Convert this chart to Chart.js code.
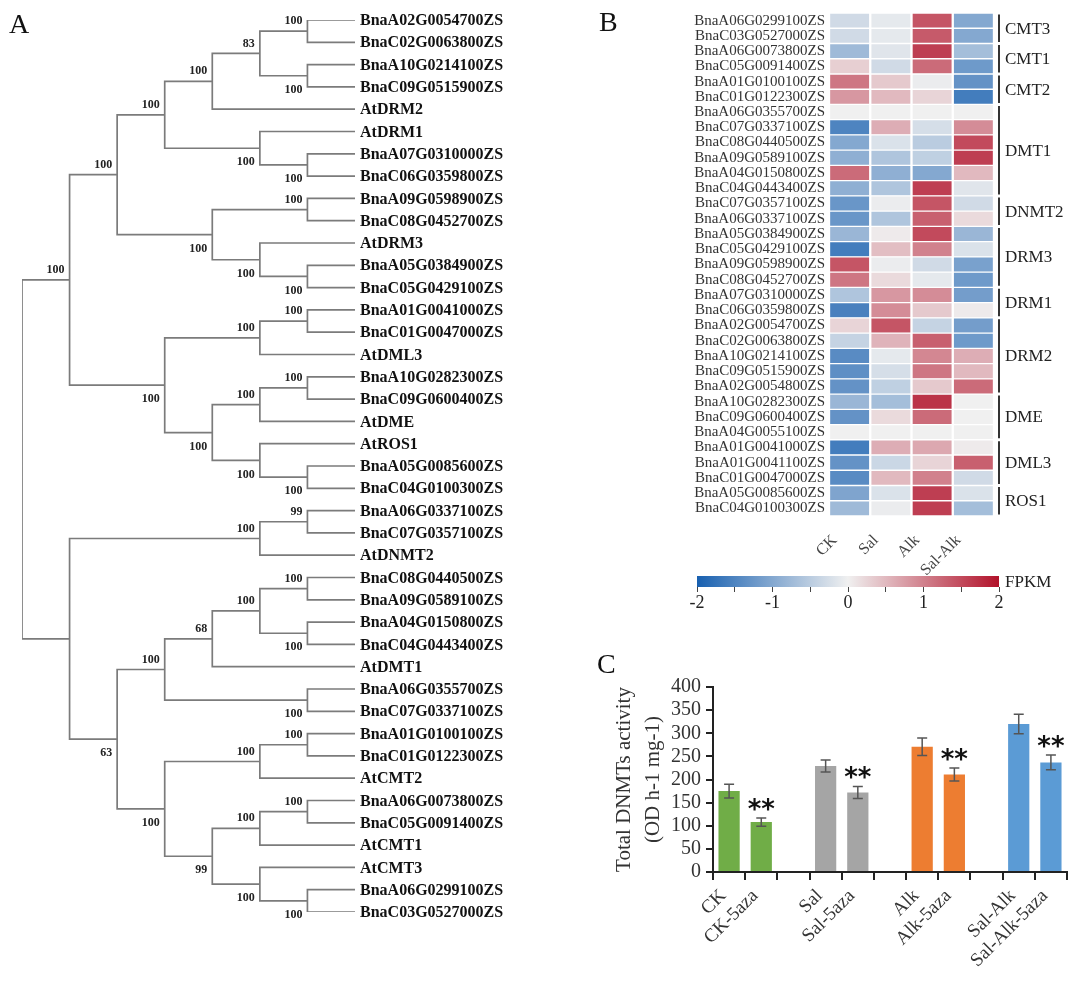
<!DOCTYPE html>
<html>
<head>
<meta charset="utf-8">
<script src="https://cdn.jsdelivr.net/npm/chart.js@4.4.0/dist/chart.umd.min.js"></script>
<style>
  body { margin: 0; background: #fff; width: 1080px; height: 981px; position: relative; overflow: hidden; }
  canvas { position: absolute; }
  .tag { position: absolute; font: 28px/1 "Liberation Serif", serif; color: #111; }
</style>
</head>
<body>
<canvas id="tree" width="585" height="981" style="left:0;top:0"></canvas>
<canvas id="heat" width="495" height="580" style="left:585px;top:0"></canvas>
<canvas id="scale" width="400" height="70" style="left:680px;top:560px"></canvas>
<canvas id="activity" width="490" height="331" style="left:590px;top:650px"></canvas>
<div class="tag" style="left:9px;top:10px">A</div>
<div class="tag" style="left:599px;top:8px">B</div>
<div class="tag" style="left:597px;top:650px">C</div>
<script>
const SERIF = '"Liberation Serif", "Times New Roman", serif';

// A: tree topology with bootstrap support (newick)
const treeNewick =
  '(((((((BnaA02G0054700ZS,BnaC02G0063800ZS)100,(BnaA10G0214100ZS,BnaC09G0515900ZS)100)83,AtDRM2)100,' +
  '(AtDRM1,(BnaA07G0310000ZS,BnaC06G0359800ZS)100)100)100,' +
  '((BnaA09G0598900ZS,BnaC08G0452700ZS)100,(AtDRM3,(BnaA05G0384900ZS,BnaC05G0429100ZS)100)100)100)100,' +
  '(((BnaA01G0041000ZS,BnaC01G0047000ZS)100,AtDML3)100,(((BnaA10G0282300ZS,BnaC09G0600400ZS)100,AtDME)100,' +
  '(AtROS1,(BnaA05G0085600ZS,BnaC04G0100300ZS)100)100)100)100)100,' +
  '(((BnaA06G0337100ZS,BnaC07G0357100ZS)99,AtDNMT2)100,' +
  '(((((BnaC08G0440500ZS,BnaA09G0589100ZS)100,(BnaA04G0150800ZS,BnaC04G0443400ZS)100)100,AtDMT1)68,' +
  '(BnaA06G0355700ZS,BnaC07G0337100ZS)100)100,' +
  '(((BnaA01G0100100ZS,BnaC01G0122300ZS)100,AtCMT2)100,(((BnaA06G0073800ZS,BnaC05G0091400ZS)100,AtCMT1)100,' +
  '(AtCMT3,(BnaA06G0299100ZS,BnaC03G0527000ZS)100)100)99)100)63));';

// B: heatmap (z-scored FPKM)
const heatGenes = ['BnaA06G0299100ZS', 'BnaC03G0527000ZS', 'BnaA06G0073800ZS', 'BnaC05G0091400ZS',
  'BnaA01G0100100ZS', 'BnaC01G0122300ZS', 'BnaA06G0355700ZS', 'BnaC07G0337100ZS', 'BnaC08G0440500ZS',
  'BnaA09G0589100ZS', 'BnaA04G0150800ZS', 'BnaC04G0443400ZS', 'BnaC07G0357100ZS', 'BnaA06G0337100ZS',
  'BnaA05G0384900ZS', 'BnaC05G0429100ZS', 'BnaA09G0598900ZS', 'BnaC08G0452700ZS', 'BnaA07G0310000ZS',
  'BnaC06G0359800ZS', 'BnaA02G0054700ZS', 'BnaC02G0063800ZS', 'BnaA10G0214100ZS', 'BnaC09G0515900ZS',
  'BnaA02G0054800ZS', 'BnaA10G0282300ZS', 'BnaC09G0600400ZS', 'BnaA04G0055100ZS', 'BnaA01G0041000ZS',
  'BnaA01G0041100ZS', 'BnaC01G0047000ZS', 'BnaA05G0085600ZS', 'BnaC04G0100300ZS'];
const heatCols = ['CK', 'Sal', 'Alk', 'Sal-Alk'];
const fpkmCK = [-0.3, -0.3, -0.75, 0.3, 1.1, 0.8, 0, -1.5, -1.0, -0.9, 1.2, -0.9, -1.25, -1.25, -0.8, -1.6, 1.4,
  1.1, -0.6, -1.55, 0.25, -0.4, -1.4, -1.35, -1.3, -0.8, -1.3, 0, -1.6, -1.3, -1.4, -1.05, -0.75];
const fpkmSal = [-0.1, -0.1, -0.15, -0.3, 0.35, 0.5, 0, 0.6, -0.2, -0.6, -0.9, -0.6, -0.05, -0.6, 0.05, 0.45, -0.05,
  0.2, 0.8, 0.9, 1.4, 0.55, -0.1, -0.25, -0.45, -0.7, 0.2, 0, 0.6, -0.35, 0.5, -0.2, -0.05];
const fpkmAlk = [1.4, 1.35, 1.6, 1.2, -0.05, 0.25, 0, -0.25, -0.5, -0.45, -1.0, 1.6, 1.4, 1.3, 1.5, 1.0, -0.3,
  -0.1, 0.9, 0.35, -0.4, 1.3, 0.95, 1.1, 0.35, 1.7, 1.2, 0, 0.65, 0.25, 1.0, 1.6, 1.6];
const fpkmSalAlk = [-1.0, -1.0, -0.7, -1.2, -1.3, -1.6, 0, 0.9, 1.5, 1.6, 0.5, -0.15, -0.3, 0.2, -0.8, -0.2, -1.1,
  -1.2, -1.15, 0.05, -1.15, -1.2, 0.6, 0.5, 1.2, 0, 0, 0, 0.05, 1.3, -0.3, -0.2, -0.7];
const heatGroups = ['CMT3', 'CMT1', 'CMT2', 'DMT1', 'DNMT2', 'DRM3', 'DRM1', 'DRM2', 'DME', 'DML3', 'ROS1'];
const heatGroupSize = [2, 2, 2, 6, 2, 4, 2, 5, 3, 3, 2];
const scaleMin = -2, scaleMax = 2;

// C: total DNMTs activity
const treatments = ['CK', 'CK-5aza', '', 'Sal', 'Sal-5aza', '', 'Alk', 'Alk-5aza', '', 'Sal-Alk', 'Sal-Alk-5aza'];
const activity = [175, 108, null, 229, 172, null, 271, 211, null, 320, 237];
const activityErr = [15, 9, null, 13, 13, null, 19, 14, null, 21, 16];
const signif = ['', '**', '', '', '**', '', '', '**', '', '', '**'];

// ---------- tree ----------
function parseNewick(s) {
  let i = 0;
  function node() {
    const n = { children: [] };
    if (s[i] === '(') {
      i++;
      n.children.push(node());
      while (s[i] === ',') { i++; n.children.push(node()); }
      i++;
    }
    let label = '';
    while (i < s.length && !',();'.includes(s[i])) label += s[i++];
    if (n.children.length) n.support = label ? label : null;
    else n.name = label;
    return n;
  }
  return node();
}

const root = parseNewick(treeNewick);
const leaves = [];
function layout(n) {
  if (!n.children.length) { n.y = leaves.length; n.h = 0; leaves.push(n); return; }
  n.children.forEach(layout);
  n.h = 1 + Math.max(...n.children.map(c => c.h));
  n.y = (n.children[0].y + n.children[n.children.length - 1].y) / 2;
}
layout(root);

const branchPts = [];
const supportLabels = [];
function walk(n) {
  n.x = root.h - n.h;
  n.children.forEach(walk);
  if (!n.children.length) return;
  const a = n.children[0], b = n.children[n.children.length - 1];
  branchPts.push({ x: a.x, y: a.y }, { x: n.x, y: a.y }, { x: n.x, y: b.y }, { x: b.x, y: b.y }, { x: NaN, y: NaN });
  n.children.forEach((c, k) => {
    if (c.children.length && c.support) supportLabels.push({ node: c, text: c.support, above: k === 0 });
  });
}
walk(root);

const treeText = {
  id: 'treeText',
  afterDatasetsDraw(chart) {
    const { ctx, scales: { x, y } } = chart;
    ctx.save();
    ctx.fillStyle = '#111';
    ctx.textBaseline = 'middle';
    ctx.font = 'bold 16px ' + SERIF;
    ctx.textAlign = 'left';
    leaves.forEach(l => ctx.fillText(l.name, x.getPixelForValue(l.x) + 5, y.getPixelForValue(l.y) + 1));
    ctx.font = 'bold 12px ' + SERIF;
    ctx.fillStyle = '#222';
    ctx.textAlign = 'right';
    supportLabels.forEach(s => {
      const px = x.getPixelForValue(s.node.x) - 5;
      const py = y.getPixelForValue(s.node.y) + (s.above ? -10 : 14);
      ctx.fillText(s.text, px, py);
    });
    ctx.restore();
  }
};

new Chart(document.getElementById('tree'), {
  type: 'scatter',
  data: {
    datasets: [{
      data: branchPts,
      showLine: true,
      spanGaps: false,
      pointRadius: 0,
      borderColor: '#7b7b7b',
      borderWidth: 1.7
    }]
  },
  options: {
    responsive: false,
    animation: false,
    events: [],
    layout: { padding: { left: 22, right: 230, top: 20, bottom: 69 } },
    plugins: { legend: { display: false }, tooltip: { enabled: false } },
    scales: {
      x: { type: 'linear', display: false, min: 0, max: root.h },
      y: { type: 'linear', display: false, min: 0, max: leaves.length - 1, reverse: true }
    }
  },
  plugins: [treeText]
});

// ---------- heatmap ----------
const lowC = [24, 96, 176], midC = [240, 240, 240], highC = [178, 18, 42];
function zColour(v) {
  const t = Math.max(-1, Math.min(1, v / 2));
  const end = t < 0 ? lowC : highC;
  const f = Math.abs(t);
  const c = midC.map((m, k) => Math.round(m + (end[k] - m) * f));
  return `rgb(${c[0]},${c[1]},${c[2]})`;
}

const heatValues = [fpkmCK, fpkmSal, fpkmAlk, fpkmSalAlk];

const groupBrackets = {
  id: 'groupBrackets',
  afterDatasetsDraw(chart) {
    const { ctx, chartArea, scales: { y } } = chart;
    const half = (y.getPixelForValue(1) - y.getPixelForValue(0)) / 2;
    const lx = chartArea.right + 5;
    ctx.save();
    ctx.strokeStyle = '#333';
    ctx.lineWidth = 2;
    ctx.fillStyle = '#222';
    ctx.font = '17px ' + SERIF;
    ctx.textBaseline = 'middle';
    let start = 0;
    heatGroups.forEach((g, k) => {
      const end = start + heatGroupSize[k] - 1;
      const top = y.getPixelForValue(start) - half + 1.5;
      const bot = y.getPixelForValue(end) + half - 1.5;
      ctx.beginPath();
      ctx.moveTo(lx, top);
      ctx.lineTo(lx, bot);
      ctx.stroke();
      ctx.fillText(g, lx + 6, (top + bot) / 2 + 1);
      start = end + 1;
    });
    ctx.restore();
  }
};

new Chart(document.getElementById('heat'), {
  type: 'bar',
  data: {
    labels: heatGenes,
    datasets: heatCols.map((c, k) => ({
      label: c,
      data: heatGenes.map(() => 1),
      backgroundColor: heatValues[k].map(zColour),
      borderColor: '#fff',
      borderWidth: { top: 1, bottom: 1, left: 1.5, right: 1.5 },
      borderSkipped: false,
      barPercentage: 1,
      categoryPercentage: 1
    }))
  },
  options: {
    indexAxis: 'y',
    responsive: false,
    animation: false,
    events: [],
    layout: { padding: { left: 0, right: 86, top: 8, bottom: 0 } },
    plugins: { legend: { display: false }, tooltip: { enabled: false } },
    scales: {
      x: {
        stacked: true, min: 0, max: heatCols.length,
        grid: { display: false }, border: { display: false },
        afterBuildTicks: s => { s.ticks = heatCols.map((c, i) => ({ value: i + 0.5 })); },
        ticks: {
          autoSkip: false, minRotation: 45, maxRotation: 45, padding: 7, labelOffset: -15,
          callback: (v, i) => heatCols[i],
          font: { family: SERIF, size: 16 }, color: '#444'
        },
        afterFit: s => { s.height = 64; }
      },
      y: {
        stacked: true,
        grid: { display: false, drawTicks: false }, border: { display: false },
        ticks: { autoSkip: false, padding: 4, font: { family: SERIF, size: 15 }, color: '#333' },
        afterFit: s => { s.width = 244; }
      }
    }
  },
  plugins: [groupBrackets]
});

// colour key
function keyGradient(chart) {
  const a = chart.chartArea;
  if (!a) return null;
  const g = chart.ctx.createLinearGradient(a.left, 0, a.right, 0);
  for (let v = scaleMin; v <= scaleMax; v += 0.25) g.addColorStop((v - scaleMin) / (scaleMax - scaleMin), zColour(v));
  return g;
}

const keyTitle = {
  id: 'keyTitle',
  afterDatasetsDraw(chart) {
    const { ctx, chartArea } = chart;
    ctx.save();
    ctx.fillStyle = '#222';
    ctx.font = '17px ' + SERIF;
    ctx.textBaseline = 'middle';
    ctx.fillText('FPKM', chartArea.right + 6, (chartArea.top + chartArea.bottom) / 2 + 1);
    ctx.restore();
  }
};

new Chart(document.getElementById('scale'), {
  type: 'bar',
  data: {
    labels: [''],
    datasets: [{
      data: [[scaleMin, scaleMax]],
      backgroundColor: c => keyGradient(c.chart),
      borderWidth: 0,
      barPercentage: 1,
      categoryPercentage: 1
    }]
  },
  options: {
    indexAxis: 'y',
    responsive: false,
    animation: false,
    events: [],
    layout: { padding: { left: 17, right: 81, top: 16, bottom: 0 } },
    plugins: { legend: { display: false }, tooltip: { enabled: false } },
    scales: {
      y: { display: false },
      x: {
        min: scaleMin, max: scaleMax,
        grid: { drawOnChartArea: false, tickLength: 5, color: '#444' },
        border: { display: false },
        ticks: {
          stepSize: 0.5, autoSkip: false, maxRotation: 0, padding: 0,
          callback: v => Number.isInteger(v) ? v : '',
          font: { family: SERIF, size: 18 }, color: '#222'
        },
        afterFit: s => { s.height = 43; }
      }
    }
  },
  plugins: [keyTitle]
});

// ---------- bars ----------
const groupColours = ['#70AD47', '#A5A5A5', '#ED7D31', '#5B9BD5'];

const errorBars = {
  id: 'errorBars',
  afterDatasetsDraw(chart) {
    const { ctx, scales: { y } } = chart;
    const meta = chart.getDatasetMeta(0);
    ctx.save();
    activity.forEach((v, i) => {
      if (v == null) return;
      const x = meta.data[i].x;
      const top = y.getPixelForValue(v + activityErr[i]);
      const bot = y.getPixelForValue(v - activityErr[i]);
      ctx.strokeStyle = '#555';
      ctx.lineWidth = 1.5;
      ctx.beginPath();
      ctx.moveTo(x, top); ctx.lineTo(x, bot);
      ctx.moveTo(x - 5, top); ctx.lineTo(x + 5, top);
      ctx.moveTo(x - 5, bot); ctx.lineTo(x + 5, bot);
      ctx.stroke();
      if (signif[i]) {
        ctx.fillStyle = '#111';
        ctx.font = 'bold 26px "DejaVu Sans", sans-serif';
        ctx.textAlign = 'center';
        ctx.textBaseline = 'alphabetic';
        ctx.fillText(signif[i], x, top);
      }
    });
    ctx.restore();
  }
};

new Chart(document.getElementById('activity'), {
  type: 'bar',
  data: {
    labels: treatments,
    datasets: [{
      data: activity,
      backgroundColor: treatments.map((t, i) => groupColours[Math.floor(i / 3)]),
      barPercentage: 0.66,
      categoryPercentage: 1
    }]
  },
  options: {
    responsive: false,
    animation: false,
    events: [],
    layout: { padding: { left: 0, right: 13, top: 37, bottom: 0 } },
    plugins: { legend: { display: false }, tooltip: { enabled: false } },
    scales: {
      x: {
        grid: { offset: true, drawOnChartArea: false, tickLength: 8, color: '#222', lineWidth: 2 },
        border: { color: '#222', width: 2 },
        ticks: {
          autoSkip: false, minRotation: 45, maxRotation: 45, padding: 5, labelOffset: -6,
          font: { family: SERIF, size: 19 }, color: '#333'
        },
        afterFit: s => { s.height = 109; }
      },
      y: {
        min: 0, max: 400,
        grid: { drawOnChartArea: false, tickLength: 7, color: '#222', lineWidth: 2 },
        border: { color: '#222', width: 2 },
        ticks: { stepSize: 50, autoSkip: false, padding: 5, font: { family: SERIF, size: 20 }, color: '#333' },
        title: {
          display: true,
          text: ['Total DNMTs activity', '(OD h-1 mg-1)'],
          font: { family: SERIF, size: 21, lineHeight: 1.38 },
          color: '#333',
          padding: { top: 20, bottom: 0 }
        },
        afterFit: s => { s.width = 123; }
      }
    }
  },
  plugins: [errorBars]
});
</script>
</body>
</html>
